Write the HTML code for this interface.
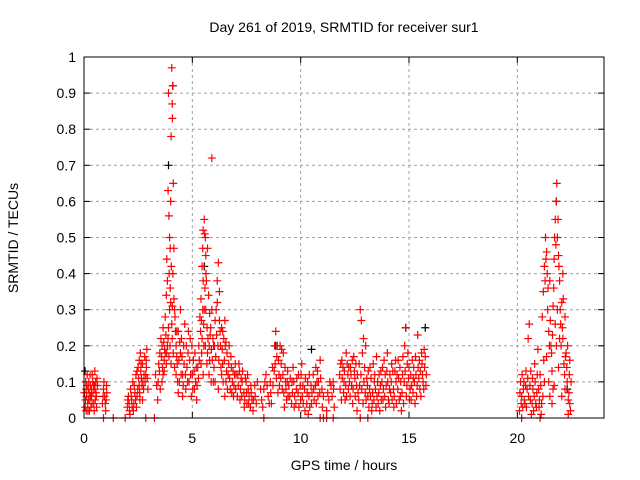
<!DOCTYPE html>
<html><head><meta charset="utf-8">
<style>
html,body{margin:0;padding:0;background:#fff;}
svg{display:block;font-family:"Liberation Sans",sans-serif;}
</style></head>
<body>
<svg id="chart" width="640" height="480" viewBox="0 0 640 480" xmlns="http://www.w3.org/2000/svg">
<text x="344" y="32" font-size="14" text-anchor="middle">Day 261 of 2019, SRMTID for receiver sur1</text>
<text x="344" y="470" font-size="14" text-anchor="middle">GPS time / hours</text>
<text x="0" y="0" font-size="14" text-anchor="middle" transform="translate(18,238) rotate(-90)">SRMTID / TECUs</text>
<g id="grid"></g>
<g id="ticks"></g>
<g id="marksb"></g>
<g id="marks"></g>
<rect x="84" y="57" width="520" height="361" fill="none" stroke="#000" stroke-width="1"/>
</svg>
<script>
const xTicks=[0,5,10,15,20];
const yTicks=[0,0.1,0.2,0.3,0.4,0.5,0.6,0.7,0.8,0.9,1];
const yTickLabels=["0","0.1","0.2","0.3","0.4","0.5","0.6","0.7","0.8","0.9","1"];
const redPoints=[
[0.05,0.03],[0.1,0.08],[0.15,0.12],[0.2,0.05],[0.25,0.02],[0.3,0.09],[0.35,0.06],[0.4,0.1],[0.45,0.04],[0.5,0.13],[0.55,0.07],[0.6,0.11],[0.12,0.06],[0.22,0.1],[0.32,0.03],[0.42,0.07],[0.52,0.05],[0.08,0.1],[0.28,0.12],[0.48,0.09],[0.58,0.03],[0.18,0.02],
[0.85,0.04],[0.9,0.08],[0.95,0.06],[1.0,0.02],[1.05,0.07],[0.92,0.1],[1.02,0.05],
[2.0,0.03],[2.05,0.06],[2.1,0.02],[2.15,0.08],[2.2,0.05],[2.25,0.1],[2.3,0.04],[2.35,0.07],[2.4,0.12],[2.45,0.06],[2.5,0.14],[2.55,0.09],[2.6,0.18],[2.65,0.11],[2.7,0.15],[2.75,0.08],[2.8,0.17],[2.85,0.12],[2.9,0.19],[2.12,0.01],[2.28,0.02],[2.42,0.03],[2.58,0.05],[2.62,0.13],[2.72,0.1],[2.88,0.14],
[3.3,0.12],[3.35,0.09],[3.4,0.05],[3.45,0.15],[3.5,0.18],[3.55,0.22],[3.6,0.2],[3.65,0.25],[3.7,0.16],[3.75,0.28],[3.8,0.34],[3.82,0.44],[3.85,0.38],[3.88,0.63],[3.9,0.9],[3.92,0.56],[3.95,0.5],[3.98,0.47],[4.0,0.6],[4.02,0.78],[4.05,0.97],[4.07,0.87],[4.08,0.83],[4.1,0.92],[4.12,0.65],[4.15,0.47],[4.1,0.4],[4.0,0.32],[3.95,0.3],[4.05,0.26],[4.15,0.33],[4.2,0.28],[4.25,0.2],[4.3,0.15],[4.35,0.24],[4.4,0.1],[4.45,0.18],[4.5,0.22],[4.55,0.12],[4.6,0.2],[4.65,0.26],[4.7,0.08],[4.75,0.14],[4.8,0.18],[3.6,0.1],[3.7,0.13],[3.85,0.2],[3.9,0.25],[4.25,0.12],[4.35,0.07],[4.45,0.3],[4.55,0.06],
[4.85,0.1],[4.9,0.22],[4.95,0.06],[5.0,0.12],[5.05,0.16],[5.1,0.08],[5.15,0.1],[5.2,0.05],[5.25,0.14],[5.3,0.2],[4.98,0.2],[5.12,0.18],
[5.35,0.28],[5.4,0.33],[5.45,0.42],[5.5,0.52],[5.55,0.55],[5.6,0.5],[5.62,0.45],[5.65,0.38],[5.7,0.47],[5.75,0.34],[5.8,0.29],[5.85,0.25],[5.9,0.72],[5.5,0.38],[5.55,0.3],[5.45,0.22],[5.6,0.2],[5.7,0.18],[5.4,0.15],[5.5,0.12],[5.8,0.16],[5.9,0.3],[5.95,0.22],[6.0,0.14],[6.05,0.27],[6.1,0.3],[6.15,0.38],[6.2,0.43],[6.25,0.27],[6.3,0.2],[6.35,0.25],[6.4,0.15],[6.45,0.22],[6.5,0.27],[6.55,0.1],[6.6,0.18],[6.65,0.12],[6.7,0.2],[6.75,0.08],[6.8,0.14],[6.85,0.1],[6.9,0.06],[6.95,0.12],[6.05,0.1],[6.2,0.08],[6.35,0.12],[6.5,0.06],
[7.0,0.08],[7.1,0.12],[7.2,0.05],[7.3,0.1],[7.4,0.03],[7.5,0.07],[7.6,0.04],[7.7,0.09],[7.8,0.02],[7.9,0.06],[8.0,0.1],[7.15,0.15],[7.45,0.11],[7.75,0.05],
[8.2,0.05],[8.3,0.08],[8.4,0.12],[8.5,0.06],[8.6,0.1],[8.7,0.14],[8.8,0.2],[8.85,0.24],[8.9,0.17],[9.0,0.12],[9.05,0.2],[9.1,0.15],[9.15,0.08],[9.2,0.18],[9.3,0.1],[9.35,0.05],[9.4,0.13],[8.65,0.04],[8.95,0.07],[9.25,0.03],
[9.5,0.06],[9.6,0.1],[9.7,0.03],[9.8,0.08],[9.9,0.12],[10.0,0.05],[10.1,0.09],[10.2,0.02],[10.3,0.07],[10.4,0.12],[10.5,0.04],[10.6,0.08],[10.7,0.14],[10.8,0.06],[10.9,0.16],[11.0,0.03],[9.65,0.14],[10.05,0.15],[10.35,0.01],[10.75,0.1],
[11.3,0.05],[11.4,0.09],[11.5,0.1],[11.55,0.03],[11.2,0.02],
[11.8,0.12],[11.9,0.16],[12.0,0.1],[12.1,0.18],[12.2,0.08],[12.3,0.14],[12.4,0.04],[12.5,0.11],[12.6,0.02],[12.7,0.15],[12.75,0.3],[12.8,0.27],[12.9,0.22],[13.0,0.2],[13.1,0.06],[13.2,0.14],[13.3,0.04],[13.4,0.1],[13.5,0.17],[13.6,0.07],[13.7,0.13],[13.8,0.05],[13.9,0.12],[14.0,0.18],[14.1,0.08],[14.2,0.15],[14.3,0.03],[14.4,0.1],[14.5,0.16],[14.6,0.06],[14.7,0.12],[14.8,0.2],[14.85,0.25],[14.9,0.09],[15.0,0.14],[15.1,0.05],[15.2,0.11],[15.3,0.17],[15.4,0.23],[15.5,0.08],[15.6,0.15],[15.7,0.19],[15.8,0.12],[12.05,0.05],[12.35,0.09],[12.65,0.07],[13.05,0.11],[13.35,0.15],[13.65,0.02],[14.05,0.05],[14.35,0.13],[14.65,0.02],[15.05,0.08],[15.35,0.06],[15.65,0.1],[12.45,0.17],[13.85,0.16],[14.95,0.18],
[20.1,0.02],[20.2,0.06],[20.3,0.1],[20.35,0.04],[20.4,0.13],[20.45,0.08],[20.5,0.22],[20.55,0.26],[20.6,0.05],[20.7,0.11],[20.75,0.02],[20.8,0.15],[20.9,0.07],[20.95,0.19],[21.0,0.03],[21.05,0.12],[21.1,0.01],[21.15,0.28],[21.2,0.35],[21.25,0.42],[21.3,0.5],[21.35,0.46],[21.4,0.3],[21.45,0.24],[21.5,0.38],[21.55,0.2],[21.6,0.13],[21.65,0.31],[21.7,0.44],[21.75,0.55],[21.8,0.6],[21.82,0.65],[21.85,0.5],[21.9,0.45],[21.95,0.38],[22.0,0.26],[22.05,0.32],[22.1,0.22],[22.15,0.15],[22.2,0.28],[22.25,0.18],[22.3,0.1],[22.35,0.05],[22.4,0.12],[22.45,0.02],[21.25,0.1],[21.35,0.17],[21.5,0.06],[21.7,0.09],[21.9,0.14],[22.05,0.06],[22.2,0.08],[20.25,0.03],[20.65,0.01],[20.85,0.04],[21.75,0.26],[22.1,0.4]
];
const redPointsExtra=[
[0.02,0.07],[0.07,0.05],[0.14,0.09],[0.17,0.04],[0.24,0.07],[0.27,0.05],[0.34,0.08],[0.37,0.04],[0.44,0.09],[0.47,0.02],[0.54,0.1],[0.57,0.06],[0.1,0.02],[0.3,0.06],[0.5,0.08],[0.38,0.12],[0.2,0.08],[0.62,0.09],[0.88,0.06],[0.98,0.04],[1.04,0.09],
[2.02,0.05],[2.08,0.04],[2.18,0.06],[2.22,0.03],[2.32,0.09],[2.38,0.05],[2.48,0.08],[2.52,0.11],[2.57,0.07],[2.63,0.15],[2.68,0.09],[2.77,0.12],[2.82,0.1],[2.87,0.16],[2.92,0.11],[2.45,0.13],[2.55,0.16],[2.7,0.05],[2.95,0.08],
[3.42,0.1],[3.48,0.13],[3.52,0.08],[3.58,0.17],[3.62,0.14],[3.68,0.21],[3.72,0.19],[3.78,0.23],[3.8,0.15],[3.82,0.18],[3.88,0.22],[3.92,0.17],[3.97,0.2],[4.02,0.15],[4.07,0.22],[4.12,0.18],[4.18,0.14],[4.22,0.24],[4.28,0.17],[4.32,0.1],[4.38,0.16],[4.42,0.21],[4.48,0.12],[4.52,0.17],[4.58,0.09],[4.62,0.15],[4.68,0.12],[4.72,0.2],[4.78,0.1],[3.98,0.36],[4.03,0.42],[4.08,0.31],[3.93,0.4],[4.18,0.3],[4.28,0.24],[3.75,0.18],[3.65,0.12],[4.82,0.24],[4.88,0.16],[4.92,0.12],[5.02,0.08],[5.08,0.13],[5.18,0.14],[5.22,0.09],[5.28,0.11],
[5.32,0.16],[5.38,0.24],[5.42,0.27],[5.48,0.3],[5.52,0.26],[5.58,0.36],[5.62,0.3],[5.68,0.25],[5.72,0.22],[5.78,0.2],[5.82,0.23],[5.88,0.19],[5.92,0.16],[5.98,0.2],[5.48,0.47],[5.57,0.51],[5.63,0.4],[5.43,0.18],[5.53,0.2],[5.67,0.15],[5.77,0.12],[5.87,0.1],[5.97,0.1],[6.02,0.2],[6.08,0.17],[6.12,0.23],[6.18,0.2],[6.22,0.16],[6.28,0.24],[6.32,0.14],[6.38,0.19],[6.42,0.1],[6.48,0.16],[6.52,0.2],[6.58,0.13],[6.62,0.08],[6.68,0.15],[6.72,0.11],[6.78,0.17],[6.82,0.07],[6.88,0.13],[6.92,0.09],[6.98,0.15],[6.15,0.32],[6.25,0.35],[6.4,0.24],[6.55,0.21],
[7.02,0.12],[7.08,0.06],[7.12,0.09],[7.18,0.13],[7.22,0.08],[7.28,0.06],[7.32,0.13],[7.38,0.07],[7.42,0.05],[7.48,0.1],[7.52,0.04],[7.58,0.08],[7.62,0.06],[7.68,0.03],[7.72,0.07],[7.82,0.05],[7.88,0.09],[7.95,0.04],[7.25,0.11],[7.55,0.12],
[8.15,0.08],[8.25,0.03],[8.35,0.1],[8.45,0.09],[8.55,0.04],[8.62,0.07],[8.72,0.09],[8.78,0.13],[8.82,0.15],[8.88,0.11],[8.92,0.2],[8.98,0.16],[9.02,0.09],[9.08,0.11],[9.12,0.19],[9.18,0.12],[9.22,0.07],[9.28,0.14],[9.32,0.08],[9.38,0.1],[9.42,0.06],[9.45,0.09],
[9.52,0.11],[9.58,0.04],[9.62,0.07],[9.68,0.1],[9.72,0.06],[9.78,0.04],[9.82,0.11],[9.88,0.07],[9.92,0.03],[9.98,0.09],[10.02,0.12],[10.08,0.06],[10.12,0.04],[10.18,0.08],[10.22,0.11],[10.28,0.04],[10.32,0.1],[10.38,0.06],[10.42,0.03],[10.48,0.09],[10.52,0.07],[10.58,0.12],[10.62,0.05],[10.68,0.09],[10.72,0.04],[10.78,0.13],[10.82,0.1],[10.88,0.07],[10.92,0.11],[10.98,0.08],[11.05,0.06],
[11.25,0.07],[11.35,0.1],[11.45,0.06],[11.52,0.08],
[11.82,0.08],[11.85,0.15],[11.88,0.05],[11.92,0.11],[11.95,0.14],[11.98,0.07],[12.02,0.13],[12.08,0.09],[12.12,0.06],[12.15,0.15],[12.18,0.12],[12.22,0.14],[12.25,0.1],[12.28,0.06],[12.32,0.12],[12.38,0.16],[12.42,0.08],[12.48,0.13],[12.52,0.06],[12.55,0.15],[12.58,0.09],[12.62,0.12],[12.68,0.05],[12.72,0.09],[12.78,0.12],[12.82,0.08],[12.85,0.18],[12.88,0.04],[12.92,0.1],[12.95,0.14],[12.98,0.07],[13.02,0.05],[13.08,0.09],[13.12,0.13],[13.15,0.03],[13.18,0.08],[13.22,0.06],[13.25,0.11],[13.28,0.02],[13.32,0.07],[13.38,0.05],[13.42,0.12],[13.45,0.08],[13.48,0.03],[13.52,0.06],[13.55,0.1],[13.58,0.04],[13.62,0.12],[13.68,0.09],[13.72,0.05],[13.75,0.1],[13.78,0.14],[13.82,0.08],[13.88,0.06],[13.92,0.03],[13.95,0.09],[13.98,0.13],[14.02,0.1],[14.08,0.04],[14.12,0.12],[14.15,0.07],[14.18,0.1],[14.22,0.05],[14.25,0.13],[14.28,0.08],[14.32,0.06],[14.38,0.16],[14.42,0.04],[14.45,0.12],[14.48,0.08],[14.52,0.11],[14.55,0.05],[14.58,0.14],[14.62,0.1],[14.68,0.07],[14.72,0.17],[14.75,0.04],[14.78,0.1],[14.82,0.13],[14.88,0.06],[14.92,0.15],[14.98,0.11],[15.02,0.05],[15.08,0.12],[15.12,0.09],[15.15,0.16],[15.18,0.07],[15.22,0.14],[15.25,0.1],[15.28,0.04],[15.32,0.12],[15.38,0.09],[15.42,0.14],[15.45,0.11],[15.48,0.16],[15.52,0.13],[15.55,0.06],[15.58,0.18],[15.62,0.12],[15.68,0.08],[15.72,0.14],[15.75,0.17],[15.78,0.09],
[20.12,0.07],[20.15,0.1],[20.18,0.04],[20.22,0.12],[20.28,0.08],[20.32,0.05],[20.38,0.09],[20.42,0.03],[20.48,0.11],[20.52,0.06],[20.58,0.09],[20.62,0.13],[20.68,0.04],[20.72,0.08],[20.78,0.06],[20.82,0.1],[20.88,0.03],[20.92,0.12],[20.98,0.08],[21.02,0.05],[21.08,0.09],[21.12,0.04],[21.18,0.06],[21.22,0.16],[21.28,0.38],[21.32,0.44],[21.38,0.4],[21.42,0.36],[21.48,0.2],[21.52,0.27],[21.58,0.18],[21.62,0.23],[21.68,0.36],[21.72,0.5],[21.78,0.48],[21.88,0.55],[21.92,0.42],[21.98,0.3],[22.02,0.2],[22.08,0.25],[22.12,0.33],[22.18,0.12],[22.22,0.17],[22.28,0.14],[22.32,0.2],[22.38,0.07],[22.42,0.16],[22.48,0.1],[22.42,0.04],[22.35,0.01],[21.6,0.04],[21.65,0.08],[21.45,0.1],[21.8,0.2],[21.85,0.3],[21.95,0.22]
];
const zeroPoints=[0.9,1.35,1.9,2.85,3.25,8.3,10.9,11.05,11.2,11.5,12.75,13.1,20.2,21.05];
const blackPoints=[[0.05,0.13],[3.9,0.7],[4.1,0.92],[5.55,0.42],[8.85,0.2],[10.5,0.19],[14.85,0.25],[15.75,0.25],[21.8,0.6],[22.3,0.08]];

const X=h=>84+h*(520/24);
const Y=v=>418-v*361;
const NS="http://www.w3.org/2000/svg";
const grid=document.getElementById('grid'),ticks=document.getElementById('ticks');
function mk(tag,attrs,parent){const e=document.createElementNS(NS,tag);for(const k in attrs)e.setAttribute(k,attrs[k]);parent.appendChild(e);return e;}
yTicks.forEach((v,i)=>{
  if(v>0&&v<1){const g=mk('line',{x1:84,x2:604,y1:Y(v),y2:Y(v),stroke:'#a0a0a0','stroke-dasharray':'3,3'},grid);
  
  }
  mk('line',{x1:84,x2:90,y1:Y(v),y2:Y(v),stroke:'#000'},ticks);
  mk('line',{x1:598,x2:604,y1:Y(v),y2:Y(v),stroke:'#000'},ticks);
  const t=mk('text',{x:76,y:Y(v)+5,'font-size':14,'text-anchor':'end'},ticks);
  t.textContent=yTickLabels[i];
  
  
});
xTicks.forEach(h=>{
  if(h>0){const g=mk('line',{x1:X(h),x2:X(h),y1:57,y2:418,stroke:'#a0a0a0','stroke-dasharray':'3,3'},grid);
  
  }
  mk('line',{x1:X(h),x2:X(h),y1:418,y2:412,stroke:'#000'},ticks);
  mk('line',{x1:X(h),x2:X(h),y1:57,y2:63,stroke:'#000'},ticks);
  const t=mk('text',{x:X(h),y:443,'font-size':14,'text-anchor':'middle'},ticks);
  t.textContent=String(h);
  
  
});
function plus(g,h,v,col){
  const x=X(h),y=Y(v);
  const p=mk('path',{d:`M${x-4},${y}H${x+4}M${x},${y-4}V${y+4}`,stroke:col,'stroke-width':1.2,fill:'none'},g);
  
  
}
const marks=document.getElementById('marks'),marksb=document.getElementById('marksb');
blackPoints.forEach(p=>plus(marksb,p[0],p[1],'#000'));
redPoints.forEach(p=>plus(marks,p[0],p[1],'#f00'));
redPointsExtra.forEach(p=>plus(marks,p[0],p[1],'#f00'));
zeroPoints.forEach(h=>plus(marks,h,0,'#f00'));
</script>
</body></html>
